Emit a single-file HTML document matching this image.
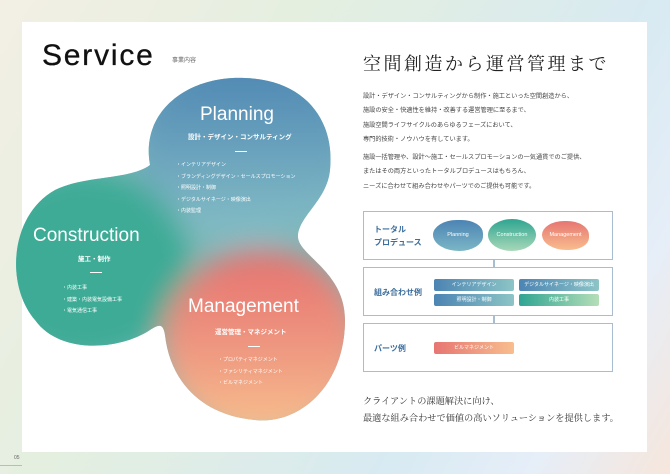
<!DOCTYPE html>
<html><head><meta charset="utf-8"><style>
*{margin:0;padding:0;box-sizing:border-box}
body{width:670px;height:474px;overflow:hidden;position:relative;font-family:"Liberation Sans","Noto Sans CJK JP",sans-serif;background:linear-gradient(120deg,#f3efe4 0%,#e3efe0 35%,#d8eaf2 70%,#e6eef8 85%,#f6e6dc 100%)}
.card{position:absolute;left:22px;top:22px;width:625px;height:430px;background:#fff}
.t{position:absolute;white-space:nowrap}
.jp{font-family:"Liberation Sans","Noto Sans CJK JP",sans-serif}
.serif{font-family:"Liberation Serif","Noto Serif CJK SC",serif;color:#333}
.w{color:#fff}
.box{position:absolute;left:363px;width:250px;border:1.5px solid #a8bdd0;background:#fff}
.lbl{position:absolute;left:10px;font-size:8px;font-weight:bold;color:#3d6f9d;line-height:13px}
.pill{position:absolute;height:12px;border-radius:2px;font-size:5px;color:#fff;text-align:center;line-height:12px}
.p{font-size:6.2px;color:#444;line-height:14.3px}
</style></head><body>
<div class="card"></div>
<svg width="670" height="474" style="position:absolute;left:0;top:0">
<defs>
<clipPath id="cp"><path d="M150,165 C140,110 190,75 245,78 C305,80 335,120 330,170 C327,200 300,215 298,235 C296,255 345,270 345,320 C345,385 300,425 255,420 C200,415 170,380 165,335 C163,322 158,325 150,330 C120,350 60,355 35,320 C5,285 10,215 55,190 C85,175 130,180 150,165 Z"/></clipPath>
<filter id="bl" x="-50%" y="-50%" width="200%" height="200%"><feGaussianBlur stdDeviation="14"/></filter>
<linearGradient id="gp" x1="0" y1="0" x2="0" y2="1"><stop offset="0" stop-color="#4a82b2"/><stop offset="1" stop-color="#86bfc6"/></linearGradient>
<linearGradient id="gm" x1="0" y1="0" x2="0" y2="1"><stop offset="0" stop-color="#e6716f"/><stop offset="0.5" stop-color="#ee9680"/><stop offset="1" stop-color="#f9c48f"/></linearGradient>
</defs>
<g clip-path="url(#cp)">
<rect x="0" y="60" width="360" height="380" fill="#7cb8b8"/>
<g filter="url(#bl)">
<ellipse cx="245" cy="145" rx="110" ry="95" fill="url(#gp)"/>
<ellipse cx="85" cy="265" rx="105" ry="95" fill="#3dab96"/>
<ellipse cx="262" cy="345" rx="100" ry="95" fill="url(#gm)"/>
</g>
</g>
</svg>
<div class="t" style="left:42px;top:39px;font-size:30px;color:#111;letter-spacing:1.8px;-webkit-text-stroke:0.3px #111">Service</div>
<div class="t jp" style="left:172px;top:55px;font-size:6px;color:#666">事業内容</div>

<div class="t w" style="left:200px;top:104px;font-size:19px">Planning</div>
<div class="t w jp" style="left:188px;top:131px;font-size:6.5px;font-weight:bold">設計・デザイン・コンサルティング</div>
<div class="t" style="left:235px;top:151px;width:12px;height:1px;background:#fff"></div>
<div class="t w jp" style="left:176px;top:160px;font-size:5px;line-height:11.5px">・インテリアデザイン<br>・ブランディングデザイン・セールスプロモーション<br>・照明設計・制御<br>・デジタルサイネージ・映像演出<br>・内装監理</div>

<div class="t w" style="left:33px;top:225px;font-size:19px">Construction</div>
<div class="t w jp" style="left:78px;top:253px;font-size:6.5px;font-weight:bold">施工・制作</div>
<div class="t" style="left:90px;top:272px;width:12px;height:1px;background:#fff"></div>
<div class="t w jp" style="left:62px;top:283px;font-size:5px;line-height:11.5px">・内装工事<br>・建築・内装電気設備工事<br>・電気通信工事</div>

<div class="t w" style="left:188px;top:296px;font-size:19px">Management</div>
<div class="t w jp" style="left:215px;top:326px;font-size:6.5px;font-weight:bold">運営管理・マネジメント</div>
<div class="t" style="left:248px;top:346px;width:12px;height:1px;background:#fff"></div>
<div class="t w jp" style="left:218px;top:355px;font-size:5px;line-height:11.5px">・プロパティマネジメント<br>・ファシリティマネジメント<br>・ビルマネジメント</div>

<div class="t serif" style="left:363px;top:50px;font-size:18px;letter-spacing:2.5px;color:#222">空間創造から運営管理まで</div>
<div class="t jp p" style="left:363px;top:90px">設計・デザイン・コンサルティングから制作・施工といった空間創造から、<br>施設の安全・快適性を維持・改善する運営管理に至るまで、<br>施設空間ライフサイクルのあらゆるフェーズにおいて、<br>専門的技術・ノウハウを有しています。</div>
<div class="t jp p" style="left:363px;top:151px">施設一括管理や、設計～施工・セールスプロモーションの一気通貫でのご提供、<br>またはその両方といったトータルプロデュースはもちろん、<br>ニーズに合わせて組み合わせやパーツでのご提供も可能です。</div>

<div class="t" style="left:493px;top:259px;width:1.5px;height:9px;background:#a8bdd0"></div>
<div class="t" style="left:493px;top:315px;width:1.5px;height:9px;background:#a8bdd0"></div>
<div class="box" style="top:211px;height:49px">
<div class="lbl" style="top:11px">トータル<br>プロデュース</div>
<div class="t w" style="left:69px;top:8px;width:50px;height:31px;border-radius:50% 45% 50% 55%;background:linear-gradient(#4c84b3,#7bb6c6);font-size:5.5px;text-align:center;line-height:31px">Planning</div>
<div class="t w" style="left:124px;top:7px;width:48px;height:32px;border-radius:50%;background:linear-gradient(#2fa592,#a8d8b8);font-size:5.5px;text-align:center;line-height:32px">Construction</div>
<div class="t w" style="left:178px;top:9px;width:47px;height:29px;border-radius:50% 50% 45% 55%;background:linear-gradient(#e67672,#f8bd8e);font-size:5.5px;text-align:center;line-height:29px">Management</div>
</div>
<div class="box" style="top:267px;height:49px">
<div class="lbl" style="top:18px">組み合わせ例</div>
<div class="pill" style="left:70px;top:11px;width:80px;background:linear-gradient(90deg,#4c84b3,#8cc4c6)">インテリアデザイン</div>
<div class="pill" style="left:155px;top:11px;width:80px;background:linear-gradient(90deg,#4c84b3,#8cc4c6)">デジタルサイネージ・映像演出</div>
<div class="pill" style="left:70px;top:26px;width:80px;background:linear-gradient(90deg,#4c84b3,#8cc4c6)">照明設計・制御</div>
<div class="pill" style="left:155px;top:26px;width:80px;background:linear-gradient(90deg,#2fa592,#b5deb8)">内装工事</div>
</div>
<div class="box" style="top:323px;height:49px">
<div class="lbl" style="top:18px">パーツ例</div>
<div class="pill" style="left:70px;top:18px;width:80px;background:linear-gradient(90deg,#e67672,#f8bd8e)">ビルマネジメント</div>
</div>

<div class="t serif" style="left:363px;top:393px;font-size:9.2px;line-height:17px;letter-spacing:0px">クライアントの課題解決に向け、<br>最適な組み合わせで価値の高いソリューションを提供します。</div>
<div class="t" style="left:14px;top:455px;font-size:5px;color:#666">05</div>
<div class="t" style="left:0px;top:465px;width:22px;height:1px;background:#bbb"></div>
</body></html>
